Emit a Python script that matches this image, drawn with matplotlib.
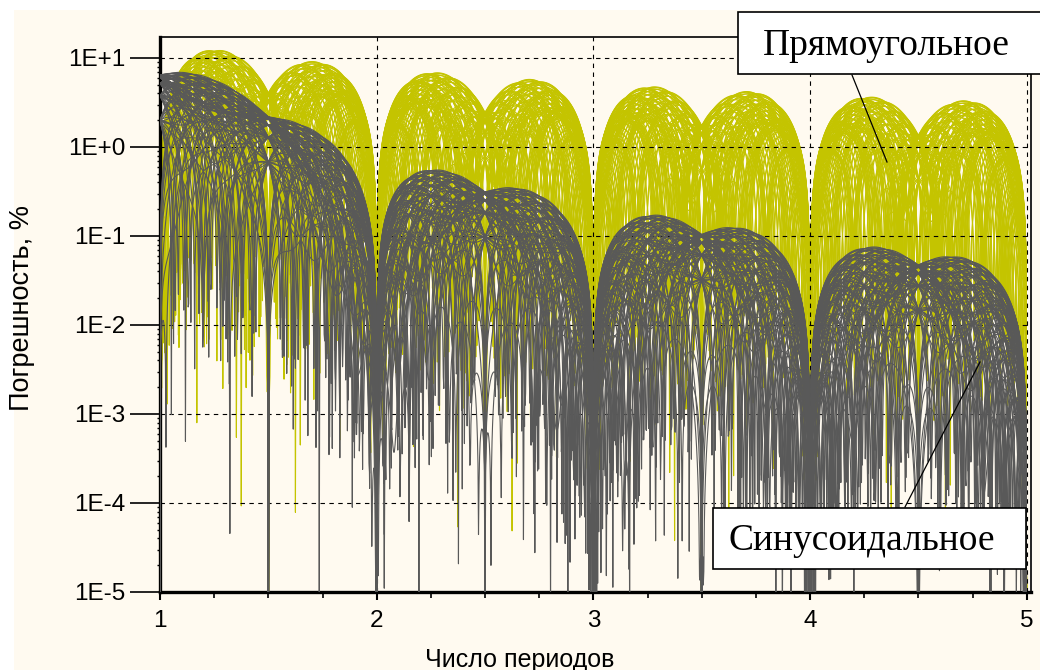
import numpy as np
import matplotlib
matplotlib.use("Agg")
import matplotlib.pyplot as plt
from matplotlib.patches import Rectangle
from matplotlib.lines import Line2D
from matplotlib.collections import LineCollection
from matplotlib.ticker import FixedLocator, FixedFormatter, LogLocator, NullFormatter, MultipleLocator

# Number of averaged signal periods (x axis)
periods = np.linspace(1.0, 5.0, 1601)

# Weights of the fundamental-frequency and double-frequency ripple terms
rect_weights = [0.19, 0.70]    # rectangular averaging window
sine_weights = [0.128, 0.65]   # sinusoidal averaging window

# Initial phases of the ripple terms; every pair gives one curve of a family
phase_fund = np.linspace(0.0, np.pi, 10, endpoint=False)
phase_double = np.linspace(0.0, 2.0 * np.pi, 10, endpoint=False)

y_ticks = [1e-5, 1e-4, 1e-3, 1e-2, 1e-1, 1e0, 1e1]
y_tick_labels = ["1E-5", "1E-4", "1E-3", "1E-2", "1E-1", "1E+0", "1E+1"]
x_ticks = [1, 2, 3, 4, 5]
x_tick_labels = ["1", "2", "3", "4", "5"]

label_rect = "Прямоугольное"
label_sine = "Синусоидальное"
x_title = "Число периодов"
y_title = "Погрешность, %"

COL_RECT = "#c4c400"
COL_SINE = "#595959"
CREAM = "#fffaf0"


def rect_kernel(nu):
    return np.sinc(nu)


def sine_kernel(nu):
    denom = 1.0 - nu ** 2
    near = np.abs(denom) < 1e-9
    safe = np.where(near, 1.0, denom)
    return np.where(near, 0.5, np.sinc(nu) / safe)


def error_family(kernel, weights):
    curves = []
    k1 = kernel(periods)
    k2 = kernel(2.0 * periods)
    for p1 in phase_fund:
        for p2 in phase_double:
            e = 100.0 * np.abs(weights[0] * k1 * np.cos(np.pi * periods + p1)
                               + weights[1] * k2 * np.cos(2.0 * np.pi * periods + p2))
            curves.append(np.column_stack([periods, np.maximum(e, 1e-7)]))
    return curves


W, H = 1040, 670
fig = plt.figure(figsize=(W / 100, H / 100), dpi=100, facecolor="white")


def fx(px):
    return px / W


def fy(py):
    return 1.0 - py / H


fig.add_artist(Rectangle((fx(14), 0), 1 - fx(14), fy(10), transform=fig.transFigure,
                         facecolor=CREAM, edgecolor="none", zorder=-10))

ax = fig.add_axes([fx(160), fy(592), fx(1031) - fx(160), fy(37) - fy(592)])
ax.set_facecolor(CREAM)
ax.set_yscale("log")
ax.set_xlim(1.0, 5.02)
ax.set_ylim(1e-5, 17.2)

ax.add_collection(LineCollection(error_family(rect_kernel, rect_weights),
                                 colors=COL_RECT, linewidths=0.8, zorder=2))
ax.add_collection(LineCollection(error_family(sine_kernel, sine_weights),
                                 colors=COL_SINE, linewidths=0.8, zorder=3))

ax.yaxis.set_major_locator(FixedLocator(y_ticks))
ax.yaxis.set_major_formatter(FixedFormatter(y_tick_labels))
ax.yaxis.set_minor_locator(LogLocator(base=10, subs=np.arange(2, 10)))
ax.yaxis.set_minor_formatter(NullFormatter())
ax.xaxis.set_major_locator(FixedLocator(x_ticks))
ax.xaxis.set_major_formatter(FixedFormatter(x_tick_labels))
ax.xaxis.set_minor_locator(MultipleLocator(0.25))

for lab in ax.get_xticklabels() + ax.get_yticklabels():
    lab.set_fontfamily("Liberation Sans")
ax.tick_params(axis="y", which="major", length=21.6, width=1.2, direction="out",
               pad=3.5, labelsize=17.5, colors="black")
ax.tick_params(axis="y", which="minor", length=2.5, width=1.0, direction="out")
ax.tick_params(axis="x", which="major", length=6, width=1.5, direction="out",
               pad=7, labelsize=17.5)
ax.tick_params(axis="x", which="minor", length=4, width=1.2, direction="out")

ax.grid(True, which="major", color="black", linestyle=(0, (4, 4)), linewidth=0.8, zorder=4)
ax.set_axisbelow(False)

for side in ("left", "bottom"):
    ax.spines[side].set_linewidth(2.4)
for side in ("top", "right"):
    ax.spines[side].set_linewidth(1.2)

fig.text(fx(520), fy(667), x_title, ha="center", va="baseline",
         fontsize=18, family="Liberation Sans")
fig.text(fx(22), fy(308), y_title, ha="center", va="center", rotation=90,
         fontsize=19.5, family="Liberation Sans")

# Labelled boxes with leader lines
fig.add_artist(Rectangle((fx(738), fy(74)), fx(1060) - fx(738), fy(12) - fy(74),
                         transform=fig.transFigure, facecolor="white",
                         edgecolor="black", linewidth=1.2, zorder=20))
fig.text(fx(763), fy(55), label_rect, ha="left", va="baseline", fontsize=27,
         family="Liberation Serif", zorder=21)
fig.add_artist(Line2D([fx(852), fx(887)], [fy(75), fy(162)], transform=fig.transFigure,
                      color="black", linewidth=0.9, zorder=20))

fig.add_artist(Rectangle((fx(713), fy(569)), fx(1026) - fx(713), fy(508) - fy(569),
                         transform=fig.transFigure, facecolor="white",
                         edgecolor="black", linewidth=1.2, zorder=20))
fig.text(fx(729), fy(550), label_sine, ha="left", va="baseline", fontsize=27,
         family="Liberation Serif", zorder=21)
fig.add_artist(Line2D([fx(905), fx(980)], [fy(507), fy(362)], transform=fig.transFigure,
                      color="black", linewidth=0.9, zorder=20))

fig.savefig("out.png", dpi=100, facecolor="white")
